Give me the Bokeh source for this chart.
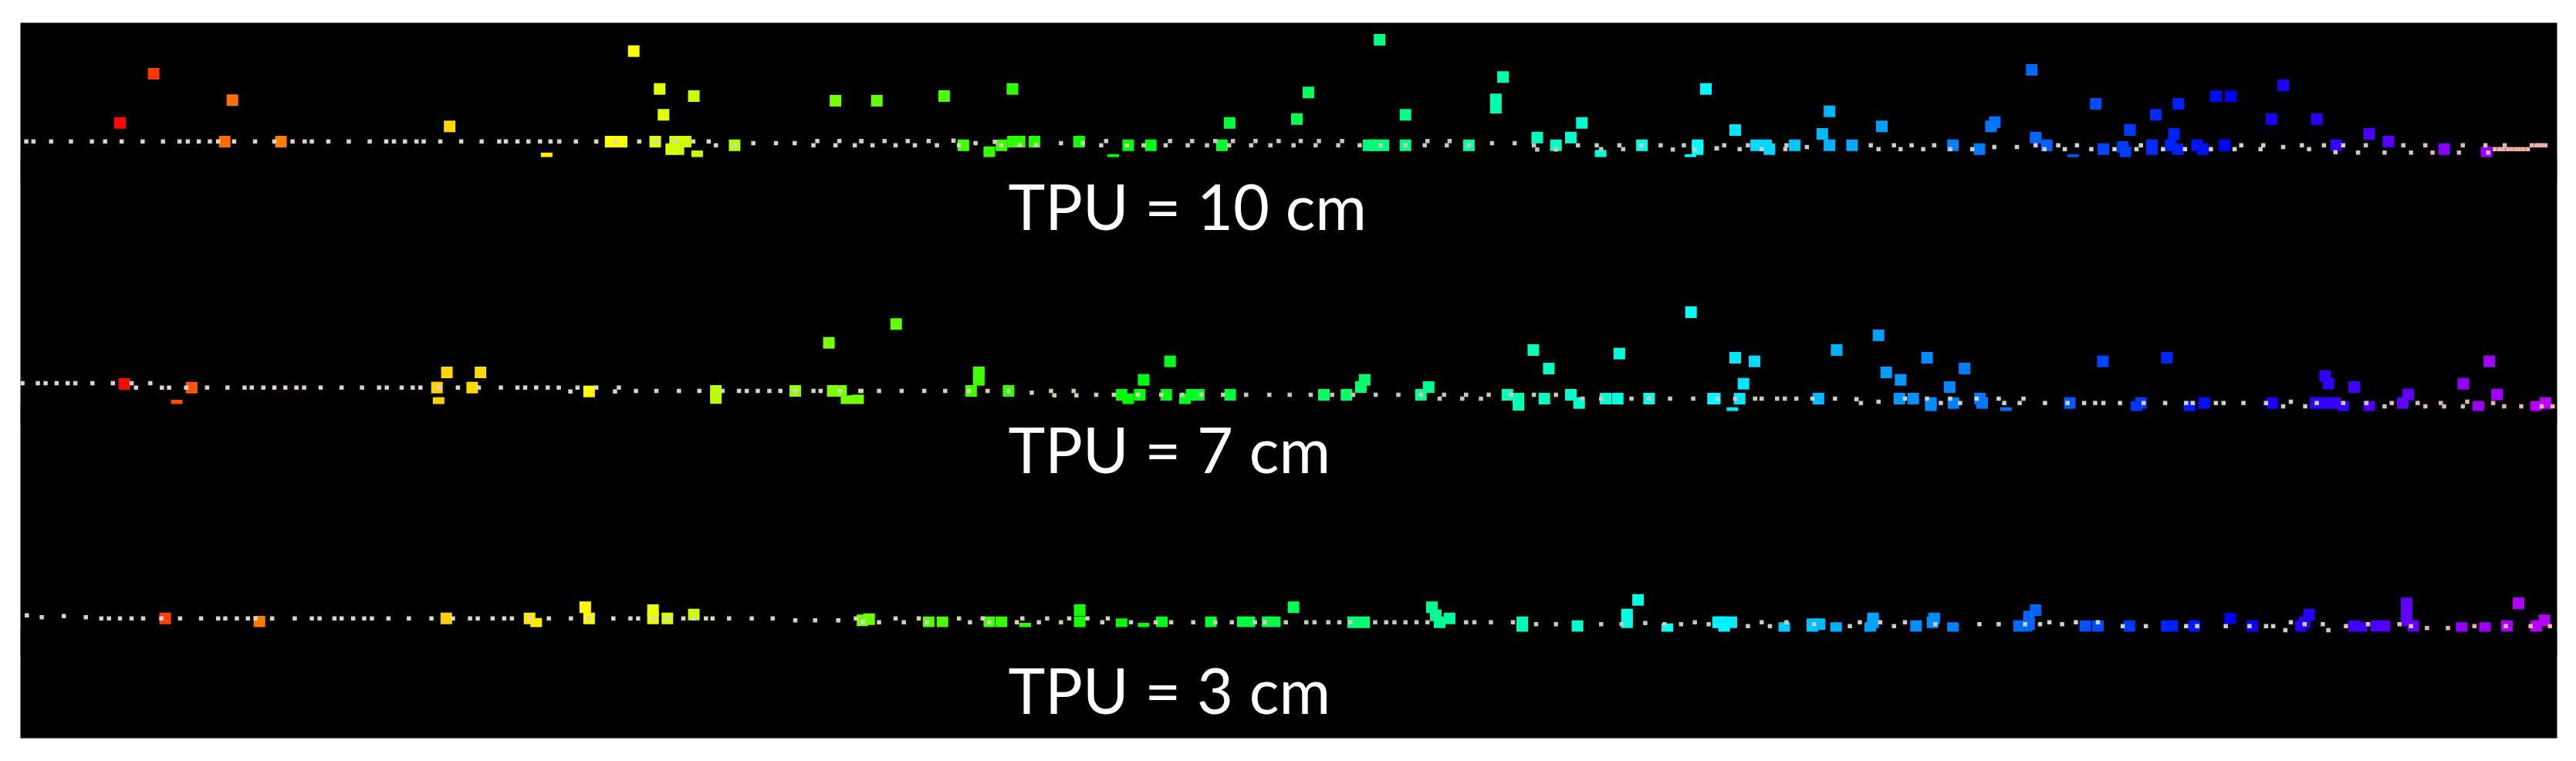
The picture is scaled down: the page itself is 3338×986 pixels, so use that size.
import numpy as np
from bokeh.plotting import figure, ColumnDataSource
from bokeh.models import Range1d, LinearColorMapper
from bokeh.transform import transform
from bokeh.core.properties import value
from bokeh.embed import file_html
from bokeh.resources import INLINE

# Readings (x, y) taken per strip segment; segment origins and reading scale below.
ORIGIN_X = {"a": 0, "b": 1110, "c": 2218}
ORIGIN_Y = {"10": 0, "7": 370, "3": 740}
SCALE_X, SCALE_Y = 1.4, 3.0

ground_10_a = [(47,548),(60,548),(92,548),(128,548),(166,548),(190,548),(220,548),(258,548),(295,548),(325,548),(340,548),(360,548),(380,548),(395,548),(424,548),(462,548),(497,548),(530,548),(552,548),(565,548),(595,548),(632,548),(670,548),(700,548),(714,548),(734,548),(755,548),(768,548),(798,548),(836,548),(873,548),(905,548),(917,548),(938,548),(958,548),(979,548),(998,548),(1014,548),(1044,548),(1081,548),(1116,548),(1159,548),(1190,548),(1225,548),(1257,548),(1285,548),(1298,563),(1332,563),(1366,555),(1407,555),(1441,555),(1475,563),(1482,547),(1515,563),(1522,547),(1550,563),(1562,547)]
ground_10_b = [(8,547),(28,563),(50,547),(70,563),(92,547),(105,563),(130,547),(145,563),(175,545),(185,563),(215,555),(250,550),(262,563),(295,563),(325,563),(370,555),(410,555),(452,547),(443,563),(490,563),(520,563),(568,547),(560,563),(608,547),(600,563),(635,563),(650,547),(682,547),(675,563),(723,547),(715,563),(765,547),(750,563),(805,547),(792,563),(838,547),(832,563),(880,547),(873,563),(912,563),(950,563),(995,563),(1035,547),(1030,563),(1075,547),(1070,563),(1110,563),(1152,555),(1193,555),(1228,563),(1234,580),(1268,580),(1308,563),(1342,563),(1350,578),(1383,563),(1390,578),(1423,563),(1458,563),(1480,580),(1500,563),(1520,580),(1560,575)]
ground_10_c = [(8,575),(22,563),(50,578),(65,563),(90,578),(133,578),(135,563),(172,570),(288,563),(302,578),(330,563),(342,578),(362,563),(383,578),(403,563),(432,578),(472,578),(512,570),(553,570),(587,563),(603,578),(628,563),(640,578),(662,563),(688,578),(730,578),(778,563),(770,578),(818,578),(858,578),(905,578),(960,563),(948,578),(1000,563),(995,578),(1036,570),(1070,563),(1083,578),(1110,563),(1145,563),(1131,590),(1186,563),(1172,592),(1220,592),(1254,563),(1268,592),(1294,563),(1307,592),(1362,563),(1355,592),(1403,563),(1438,563),(1408,592),(1420,578),(1428,578),(1435,578),(1443,578),(1450,578),(1458,578),(1465,578),(1472,578),(1480,578),(1487,563),(1495,563),(1500,563),(1506,563),(1512,563)]

ground_7_a = [(40,378),(68,378),(82,378),(102,378),(122,378),(136,378),(167,378),(204,378),(238,378),(246,395),(272,378),(293,395),(306,395),(337,395),(375,395),(412,395),(443,395),(456,395),(477,395),(497,395),(517,395),(537,395),(551,395),(581,395),(619,395),(656,395),(687,395),(701,395),(728,395),(748,395),(762,395),(796,395),(830,395),(868,395),(908,395),(938,395),(952,395),(972,395),(993,395),(1013,395),(1034,410),(1047,395),(1081,395),(1115,410),(1122,395),(1153,408),(1190,408),(1231,408),(1268,408),(1310,408),(1340,408),(1354,408),(1374,408),(1395,408),(1415,408),(1442,408),(1475,408),(1488,408),(1523,408),(1560,408)]
ground_7_b = [(8,408),(40,408),(81,408),(122,408),(160,408),(203,408),(237,408),(275,408),(317,415),(352,408),(358,425),(393,408),(398,425),(434,423),(466,423),(510,423),(552,423),(590,423),(625,423),(664,423),(706,423),(748,423),(785,423),(823,423),(862,423),(900,423),(941,423),(982,423),(1023,423),(1065,423),(1057,438),(1105,423),(1098,438),(1132,438),(1146,423),(1187,423),(1228,423),(1268,423),(1316,438),(1350,438),(1405,438),(1437,438),(1475,438),(1517,438)]
ground_7_c = [(10,438),(42,438),(78,438),(90,438),(118,438),(132,438),(153,438),(182,438),(223,438),(262,440),(270,455),(302,450),(350,438),(390,438),(415,455),(432,438),(450,455),(480,438),(520,438),(530,455),(565,438),(558,455),(604,455),(645,455),(675,455),(695,455),(710,455),(740,455),(783,455),(822,455),(860,455),(872,455),(914,455),(928,455),(964,455),(1005,455),(1050,450),(1036,468),(1076,468),(1097,455),(1145,455),(1187,455),(1220,468),(1233,455),(1280,455),(1294,468),(1322,455),(1328,468),(1370,450),(1362,468),(1417,455),(1437,468),(1468,468),(1505,468),(1525,468)]

ground_3_a = [(48,170),(75,178),(115,173),(155,178),(183,182),(197,182),(217,182),(238,182),(259,182),(292,182),(326,182),(364,182),(395,182),(408,182),(429,182),(449,182),(463,182),(493,182),(534,182),(565,182),(579,182),(606,182),(619,182),(640,182),(660,182),(674,182),(704,182),(741,182),(782,182),(821,182),(852,182),(866,182),(893,182),(914,182),(928,182),(960,182),(995,182),(1035,182),(1068,182),(1112,182),(1143,182),(1157,182),(1185,182),(1210,182),(1239,182),(1258,182),(1280,182),(1292,182),(1322,182),(1363,182),(1401,182),(1442,190),(1478,190),(1520,190),(1552,182),(1565,195)]
ground_3_b = [(10,197),(40,197),(70,182),(85,197),(112,182),(127,197),(185,182),(205,197),(228,182),(240,197),(300,182),(290,197),(345,182),(330,197),(385,182),(370,197),(418,182),(455,182),(445,197),(497,197),(542,197),(570,197),(610,197),(650,197),(680,197),(722,197),(740,197),(778,197),(815,197),(830,197),(855,197),(875,197),(895,197),(940,197),(960,197),(975,197),(995,197),(1015,197),(1035,197),(1105,197),(1120,197),(1150,197),(1190,197),(1232,205),(1268,205),(1350,205),(1387,205),(1430,200),(1465,205),(1495,205),(1520,197),(1545,205)]
ground_3_c = [(65,212),(90,197),(105,212),(135,197),(185,205),(250,212),(268,197),(305,197),(330,212),(350,197),(405,205),(485,205),(520,205),(568,205),(595,205),(612,197),(635,205),(660,197),(700,197),(745,212),(787,212),(860,212),(880,212),(932,212),(975,212),(1005,212),(1018,212),(1040,228),(1050,197),(1075,205),(1108,205),(1118,228),(1150,212),(1190,205),(1247,205),(1268,212),(1297,220),(1335,220),(1383,212),(1440,212),(1485,212),(1520,212)]

points_10_a = [(217,476),(278,285),(421,388),(407,549),(509,549),(815,490),(1149,197),(1196,344),(1258,372),(1203,445),(1515,390),(991,614),(1107,549),(1127,549),(1188,549),(1224,549),(1243,549),(1217,578),(1230,578),(1264,606),(1332,563)]
points_10_b = [(36,390),(158,372),(282,344),(676,476),(798,461),(819,358),(948,153),(995,445),(1172,298),(1159,385),(1159,417),(1315,476),(1234,533),(1295,533),(1268,563),(1424,563),(1540,344),(1525,578),(1525,563),(193,563),(240,590),(262,563),(283,549),(295,549),(322,549),(403,549),(492,563),(465,620),(533,563),(662,563),(928,563),(955,563),(942,563),(995,563),(1110,563),(1349,604),(1512,620)]
points_10_c = [(42,504),(200,519),(213,431),(308,490),(80,563),(98,563),(104,578),(150,563),(213,563),(254,563),(437,563),(485,578),(513,473),(506,490),(580,270),(587,533),(607,563),(655,620),(696,402),(710,578),(745,570),(750,590),(758,504),(798,563),(805,445),(798,578),(832,563),(838,519),(846,402),(845,578),(880,563),(890,578),(914,373),(941,373),(930,563),(1015,461),(1036,330),(1097,461),(1132,563),(1192,519),(1227,548),(1328,578),(1405,592)]

points_7_a = [(225,381),(347,395),(320,465),(792,395),(810,336),(871,336),(856,395),(795,455),(1068,410),(1298,408),(1298,436),(1442,408),(1510,408),(1525,408),(1503,221),(1535,448),(1550,448)]
points_7_b = [(2,445),(71,148),(221,336),(221,365),(207,408),(275,408),(480,423),(492,440),(513,423),(561,423),(595,440),(607,423),(620,423),(677,423),(847,423),(888,423),(914,393),(921,365),(1023,423),(1037,393),(568,293),(520,365),(1227,249),(1255,321),(1383,263),(1513,102),(1180,423),(1200,438),(1200,462),(1247,438),(1295,423),(1310,455),(1358,438),(1380,438),(1437,438),(1553,438)]
points_7_c = [(42,279),(77,293),(57,380),(226,249),(302,192),(390,279),(458,321),(316,336),(342,365),(431,393),(5,438),(50,438),(37,494),(193,438),(340,438),(365,438),(397,455),(397,470),(438,455),(486,438),(490,455),(533,494),(709,293),(825,279),(649,455),(770,470),(778,455),(866,470),(893,455),(1016,455),(1112,350),(1118,380),(1165,393),(1263,422),(1253,455),(1363,380),(1410,293),(1424,422),(1095,455),(1115,455),(1130,455),(1145,470),(1192,470),(1390,470),(1495,470),(1512,455)]

points_3_a = [(299,182),(470,195),(809,182),(960,182),(972,203),(1061,139),(1068,182),(1184,150),(1184,182),(1210,182),(1258,167)]
points_3_b = [(22,185),(10,190),(130,197),(155,197),(240,197),(262,197),(305,222),(404,150),(404,197),(480,205),(520,222),(553,197),(642,197),(700,197),(712,197),(745,197),(758,197),(792,139),(900,197),(920,197),(1043,139),(1050,170),(1057,197),(1075,182),(1207,197),(1207,220),(1307,212),(1417,110),(1397,167),(1397,197),(1470,224),(1562,197)]
points_3_c = [(22,197),(35,197),(15,197),(22,220),(131,220),(182,205),(182,220),(195,205),(225,220),(292,182),(292,197),(287,220),(370,212),(403,182),(400,197),(437,220),(557,212),(575,205),(587,150),(575,175),(570,212),(677,212),(700,212),(757,212),(825,212),(835,212),(875,212),(940,182),(980,212),(1068,212),(1075,197),(1083,167),(1165,212),(1178,220),(1205,212),(1220,212),(1260,124),(1260,155),(1260,190),(1272,212),(1360,220),(1402,220),(1442,212),(1463,124),(1510,190),(1495,212)]

labels = ["TPU = 10 cm", "TPU = 7 cm", "TPU = 3 cm"]
label_x = [1306, 1306, 1306]
label_y = [266, 581, 893]

# Along-track position against hue of the rainbow colouring
hue_x = [26, 150, 200, 290, 360, 580, 820, 870, 1080, 1300, 1500, 1800, 2000, 2200, 2400, 2700, 2900, 3100, 3200, 3313]
hue_deg = [0, 0, 15, 26, 30, 50, 62, 70, 92, 108, 125, 150, 165, 180, 200, 220, 240, 260, 275, 285]
tint_x = [26, 800, 1400, 1800, 2300, 2700, 3000, 3200, 3313]
tint_r = [225, 220, 215, 205, 195, 205, 210, 225, 245]
tint_g = [205, 215, 205, 195, 205, 210, 205, 180, 175]
tint_b = [215, 190, 170, 185, 195, 215, 205, 175, 165]

# Strip bottoms: the points are cut off at these rows
cut_left = [26, 26, 1750, 26, 1680]
cut_right = [3313, 1750, 3313, 1680, 3313]
cut_row = [203, 523, 532, 812, 818]
cut_end = [235, 548, 548, 850, 850]

LEFT, RIGHT, TOP, BOTTOM = 26, 3313, 29, 956


def collect(prefix):
    xs, ys = [], []
    for row in ("10", "7", "3"):
        for seg in ("a", "b", "c"):
            for zx, zy in globals()[f"{prefix}_{row}_{seg}"]:
                xs.append(ORIGIN_X[seg] + zx / SCALE_X)
                ys.append(ORIGIN_Y[row] + zy / SCALE_Y)
    return dict(x=xs, y=ys)


def hsv_hex(h):
    h = h % 360
    c = 255
    k = h / 60
    f = c * (1 - abs(k % 2 - 1))
    r, g, b = [(c, f, 0), (f, c, 0), (0, c, f), (0, f, c), (f, 0, c), (c, 0, f)][int(k) % 6]
    return "#%02x%02x%02x" % (int(r), int(g), int(b))


grid = np.linspace(LEFT, RIGHT, 256)
rainbow = [hsv_hex(h) for h in np.interp(grid, hue_x, hue_deg)]
tints = ["#%02x%02x%02x" % (int(r), int(g), int(b)) for r, g, b in zip(
    np.interp(grid, tint_x, tint_r), np.interp(grid, tint_x, tint_g), np.interp(grid, tint_x, tint_b))]

p = figure(width=3322, height=970, output_backend="svg", toolbar_location=None,
           x_range=Range1d(LEFT, RIGHT), y_range=Range1d(BOTTOM, TOP),
           min_border_left=26, min_border_right=9, min_border_top=29, min_border_bottom=14,
           background_fill_color="black", border_fill_color="white", outline_line_color=None)
p.axis.visible = False
p.grid.visible = False

point_map = LinearColorMapper(palette=rainbow, low=LEFT, high=RIGHT)
ground_map = LinearColorMapper(palette=tints, low=LEFT, high=RIGHT)

p.scatter("x", "y", source=ColumnDataSource(collect("points")), marker="square", size=15,
          fill_color=transform("x", point_map), line_color=None)
p.quad(left=cut_left, right=cut_right, top=cut_row, bottom=cut_end, fill_color="black", line_color=None)
p.scatter("x", "y", source=ColumnDataSource(collect("ground")), marker="square", size=5.5,
          fill_color=transform("x", ground_map), line_color=None)
p.text(x=label_x, y=label_y, text=labels, text_color="white", text_font=value("Lato"),
       text_font_size="81px", text_baseline="alphabetic", text_align="left")

open("out.html", "w").write(file_html(p, INLINE))
